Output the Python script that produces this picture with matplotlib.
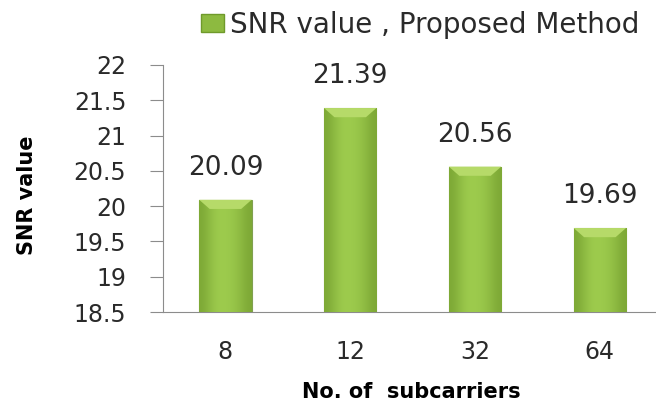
import numpy as np
import matplotlib.pyplot as plt
from matplotlib.patches import Patch

# data
subcarriers = ["8", "12", "32", "64"]
snr_values = [20.09, 21.39, 20.56, 19.69]
y_ticks = [18.5, 19, 19.5, 20, 20.5, 21, 21.5, 22]

plt.rcParams['font.family'] = ['DejaVu Sans']

fig = plt.figure(figsize=(6.56, 4.05), dpi=100)
ax = fig.add_axes([163 / 656, 1 - 312 / 405, 493 / 656, 247 / 405])

bars = ax.bar(range(len(subcarriers)), snr_values, width=0.42,
              color="#96C348", edgecolor="#80A050", linewidth=0.8, zorder=2)

# soft horizontal shading on each bar
shade = np.array([[0.0, 0.6, 1.0, 1.0, 0.85, 0.5, 0.0]])
green = plt.matplotlib.colors.LinearSegmentedColormap.from_list("g", ["#7EA936", "#9DCB4D"])
for b in bars:
    x0, w, top = b.get_x(), b.get_width(), b.get_y() + b.get_height()
    im = ax.imshow(shade, cmap=green, aspect="auto", interpolation="bicubic",
                   extent=(x0, x0 + w, 18.5, top), zorder=3)
    im.set_clip_path(b)
    # lighter bevel on top
    ax.fill([x0, x0 + w, x0 + w * 0.8, x0 + w * 0.2],
            [top, top, top - 0.13, top - 0.13],
            color="#B6DA69", zorder=4, lw=0)

# value labels above the bars
for i, v in enumerate(snr_values):
    ax.annotate(f"{v:.2f}", (i, v), xytext=(0, 23), textcoords="offset points",
                ha="center", va="center", fontsize=19, color="#2A2A2A")

ax.set_xlim(-0.5, 3.45)
ax.set_ylim(18.5, 22)
ax.set_yticks(y_ticks)
ax.set_yticklabels([f"{t:g}" for t in y_ticks])
ax.set_xticks(range(len(subcarriers)))
ax.set_xticklabels(subcarriers)

ax.tick_params(axis="y", labelsize=17, length=9.4, color="#8C8C8C", pad=17,
               labelcolor="#2A2A2A")
ax.tick_params(axis="x", labelsize=17, length=0, pad=20, labelcolor="#2A2A2A")
for side in ["top", "right"]:
    ax.spines[side].set_visible(False)
ax.spines["left"].set_color("#8C8C8C")
ax.spines["bottom"].set_color("#8C8C8C")

ax.set_ylabel("SNR value", fontsize=15, fontweight="bold", va="center")
ax.yaxis.set_label_coords(-0.276, 0.474)
ax.set_xlabel("No. of  subcarriers", fontsize=15, fontweight="bold", va="center")
ax.xaxis.set_label_coords(0.503, -0.324)

handle = Patch(facecolor="#8DBA40", edgecolor="#6F9A2B")
fig.legend([handle], ["SNR value , Proposed Method"], loc="upper right",
           bbox_to_anchor=(1.0, 1.015), frameon=False, fontsize=20,
           handlelength=0.85, handleheight=0.65, handletextpad=0.2,
           borderaxespad=0.2, labelcolor="#2A2A2A")

fig.savefig("out.png", dpi=100)
